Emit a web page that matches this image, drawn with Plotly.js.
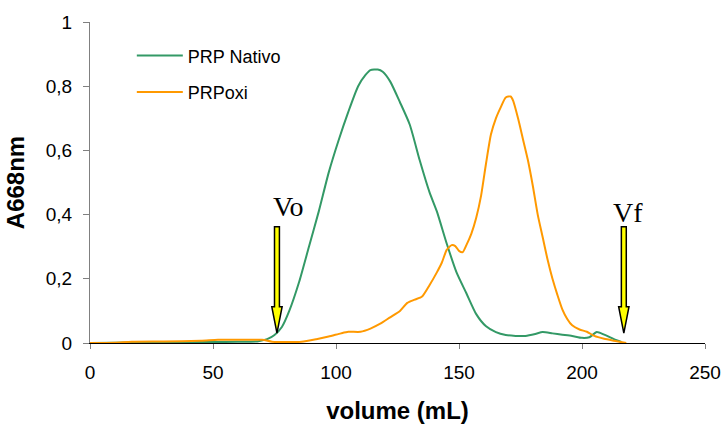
<!DOCTYPE html>
<html>
<head>
<meta charset="utf-8">
<script src="https://cdn.plot.ly/plotly-3.0.1.min.js"></script>
<style>html,body{margin:0;padding:0;background:#fff;}#chart{width:723px;height:426px;}</style>
</head>
<body>
<div id="chart"></div>
<script>
// PRP Nativo
const nativoX = [0, 10, 20, 30, 40, 50, 60, 68, 72, 75, 78, 81, 85, 89, 93, 97, 101, 105, 109, 112, 114, 117, 119, 122, 126, 130, 134, 138, 141, 145, 149, 153, 157, 161, 165, 169, 173, 177, 181, 184, 188, 192, 196, 200, 203, 206, 209, 213, 216];
const nativoY = [0, 0.001, 0.002, 0.002, 0.003, 0.003, 0.004, 0.005, 0.012, 0.025, 0.05, 0.1, 0.19, 0.3, 0.41, 0.53, 0.63, 0.72, 0.8, 0.835, 0.85, 0.852, 0.845, 0.815, 0.75, 0.68, 0.57, 0.47, 0.41, 0.31, 0.22, 0.155, 0.09, 0.052, 0.034, 0.025, 0.022, 0.022, 0.028, 0.034, 0.03, 0.026, 0.022, 0.016, 0.018, 0.034, 0.026, 0.012, 0.003];
// PRPoxi
const oxiX = [0, 10, 17, 30, 45, 52, 60, 70, 74, 80, 86, 92, 97, 102, 105, 110, 114, 118, 122, 126, 129, 132, 135, 138, 141, 143, 145, 147, 148.5, 150, 151.5, 153, 155, 157, 159, 161, 163, 165, 167, 169, 171, 172, 174, 176, 178, 180, 182, 184, 186, 188, 190, 192, 194, 196, 199, 202, 205, 209, 213, 218];
const oxiY = [0, 0.001, 0.004, 0.005, 0.007, 0.01, 0.01, 0.01, 0.004, 0.003, 0.004, 0.012, 0.02, 0.03, 0.035, 0.035, 0.045, 0.06, 0.08, 0.1, 0.125, 0.135, 0.145, 0.18, 0.22, 0.25, 0.29, 0.305, 0.302, 0.287, 0.283, 0.305, 0.34, 0.39, 0.46, 0.56, 0.65, 0.7, 0.735, 0.765, 0.768, 0.755, 0.7, 0.635, 0.57, 0.49, 0.4, 0.33, 0.26, 0.2, 0.15, 0.105, 0.075, 0.055, 0.042, 0.035, 0.022, 0.013, 0.007, 0];
// Markers
const markerNames = ["Vo", "Vf"];
const markerX = [76, 217];

const xTicks = [0, 50, 100, 150, 200, 250];
const yTicks = [0, 0.2, 0.4, 0.6, 0.8, 1];

function arrowPath(xc) {
  const hw = 1.0, hh = 2.1, top = 0.362, neck = 0.113, tip = 0.031;
  return `M ${xc-hw},${top} L ${xc+hw},${top} L ${xc+hw},${neck} L ${xc+hh},${neck} L ${xc},${tip} L ${xc-hh},${neck} L ${xc-hw},${neck} Z`;
}

const font = "Liberation Sans, Arial, sans-serif";
const traces = [
  {x: nativoX, y: nativoY, type: 'scatter', mode: 'lines', name: 'PRP Nativo', legendgroup: 'a',
   line: {color: '#339966', width: 2, shape: 'spline', smoothing: 0.6}},
  {x: oxiX, y: oxiY, type: 'scatter', mode: 'lines', name: 'PRPoxi', legendgroup: 'b',
   line: {color: '#FF9900', width: 2, shape: 'spline', smoothing: 0.6}}
];

const layout = {
  width: 723, height: 426,
  margin: {l: 90, r: 18, t: 22, b: 83},
  paper_bgcolor: '#fff', plot_bgcolor: '#fff',
  separators: ', ',
  font: {family: font, size: 19, color: '#000'},
  showlegend: true,
  legend: {x: 0.068, y: 0.952, xanchor: 'left', yanchor: 'top', traceorder: 'grouped', tracegroupgap: 10,
    itemwidth: 46, font: {family: font, size: 18, color: '#000'}, bgcolor: 'rgba(0,0,0,0)'},
  xaxis: {range: [0, 250], tickvals: xTicks, ticks: 'outside', ticklen: 5, tickcolor: '#808080',
    showline: true, linecolor: '#000', linewidth: 1, showgrid: false, zeroline: false,
    ticklabelstandoff: 7,
    tickfont: {family: font, size: 19, color: '#000'},
    title: {text: '<b>volume (mL)</b>', font: {family: font, size: 24, color: '#000'}, standoff: 20}},
  yaxis: {range: [0, 1], tickvals: yTicks, ticks: 'outside', ticklen: 6, tickcolor: '#808080',
    showline: true, linecolor: '#808080', linewidth: 1, showgrid: false, zeroline: false,
    ticklabelstandoff: 7,
    tickfont: {family: font, size: 19, color: '#000'},
    title: {text: '<b>A668nm</b>', font: {family: font, size: 24, color: '#000'}, standoff: 14}},
  shapes: markerX.map(xc => ({type: 'path', xref: 'x', yref: 'y', path: arrowPath(xc),
    fillcolor: '#FFFF00', line: {color: '#000', width: 1.5}})),
  annotations: markerNames.map((n, i) => ({x: markerX[i] + (i === 0 ? 4.5 : 1.5), y: 0.424 - (i === 0 ? 0 : 0.016), xref: 'x', yref: 'y', text: n,
    showarrow: false, font: {family: 'Liberation Serif, Times New Roman, serif', size: 28, color: '#000'}}))
};

Plotly.newPlot('chart', traces, layout, {displayModeBar: false, staticPlot: true});
</script>
</body>
</html>
